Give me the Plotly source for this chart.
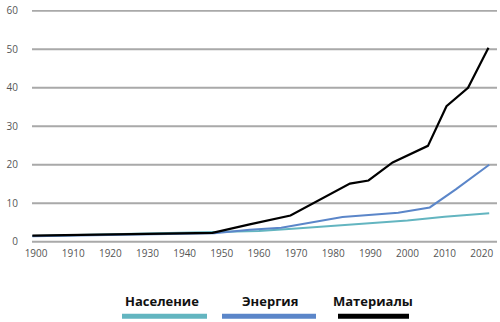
import plotly.graph_objects as go

# ---- data ----
series_names = ["Население", "Энергия", "Материалы"]
series_colors = ["#63b5c0", "#5b86c9", "#000000"]

years_population = [1899, 1948, 1960, 1970, 1980, 1990, 2000, 2010, 2022]
values_population = [1.5, 2.4, 2.8, 3.4, 4.1, 4.8, 5.5, 6.5, 7.4]

years_energy = [1899, 1948, 1957.5, 1966, 1982.5, 1997.5, 2006, 2010, 2013, 2022]
values_energy = [1.4, 2.2, 3.1, 3.6, 6.4, 7.5, 8.9, 11.5, 13.6, 20.0]

years_materials = [1899, 1947.5, 1957.5, 1968.5, 1984.5, 1989.5, 1996, 2005.5, 2010.5, 2016.3, 2021.8]
values_materials = [1.6, 2.3, 4.5, 6.8, 15.1, 15.9, 20.6, 24.9, 35.2, 40.0, 50.4]

x_ticks = [1900, 1910, 1920, 1930, 1940, 1950, 1960, 1970, 1980, 1990, 2000, 2010, 2020]
y_ticks = [0, 10, 20, 30, 40, 50, 60]

fig = go.Figure()
for name, color, xs, ys in [
    (series_names[0], series_colors[0], years_population, values_population),
    (series_names[1], series_colors[1], years_energy, values_energy),
    (series_names[2], series_colors[2], years_materials, values_materials),
]:
    fig.add_trace(go.Scatter(x=xs, y=ys, mode="lines", name=name,
                             line=dict(color=color, width=2.2 if color == "#000000" else 2),
                             showlegend=False, cliponaxis=False))

W, H = 500, 322
L, R, T, B = 32, 3, 6, 78
pw, ph = W - L - R, H - T - B

def px_x(p):
    return (p - L) / pw

def px_y(p):
    return (H - B - p) / ph

fig.update_layout(
    width=W, height=H,
    margin=dict(l=L, r=R, t=T, b=B),
    paper_bgcolor="white", plot_bgcolor="white",
    font=dict(family="Open Sans, Roboto, sans-serif", color="#555555"),
    xaxis=dict(range=[1898.9, 2024.1], tickvals=x_ticks, showgrid=False, zeroline=False,
               showline=False, tickfont=dict(size=10, color="#555555"), ticks="",
               ticklabelstandoff=2),
    yaxis=dict(range=[-0.6, 60.2], tickvals=y_ticks,
               showgrid=False, zeroline=False,
               showline=False, tickfont=dict(size=10, color="#555555"), ticks="",
               ticklabelstandoff=13, ticklabeloverflow="allow"),
)

# horizontal grid lines at every y tick (drawn below the data)
for v in y_ticks:
    fig.add_shape(type="line", xref="paper", yref="y", x0=0, x1=1, y0=v, y1=v,
                  line=dict(color="#a9a9a9", width=2), layer="below")

# custom legend: name above a coloured bar
legend_text_x = [162, 270, 373]
legend_bars = [(122, 207), (222, 316), (338, 409)]
for name, color, tx, (x0, x1) in zip(series_names, series_colors, legend_text_x, legend_bars):
    fig.add_annotation(x=px_x(tx), y=px_y(302), xref="paper", yref="paper",
                       text=f"<b>{name}</b>", showarrow=False, xanchor="center", yanchor="middle",
                       font=dict(size=13, color="#111111", family="Open Sans, sans-serif"))
    fig.add_shape(type="line", xref="paper", yref="paper",
                  x0=px_x(x0), x1=px_x(x1), y0=px_y(317.5), y1=px_y(317.5),
                  line=dict(color=color, width=5))

fig.write_html("out.html")
